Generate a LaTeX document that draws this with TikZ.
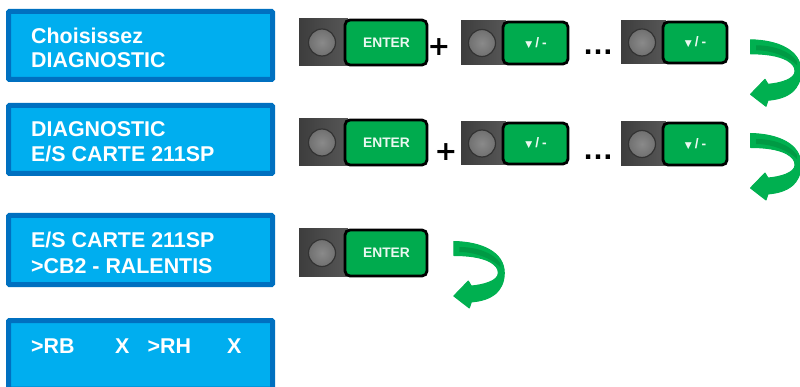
\documentclass[tikz,border=0pt]{standalone}
\usepackage{fontspec}
\setmainfont{Liberation Sans}
\newfontfamily\symfont{DejaVu Sans}
\definecolor{lcdfill}{HTML}{00AEEF}
\definecolor{lcdedge}{HTML}{0070C0}
\definecolor{keygreen}{HTML}{00AB4E}
\definecolor{arrowgreen}{HTML}{00B050}
\definecolor{arrowdark}{HTML}{009A44}
\tikzset{
  lcd/.style={draw=lcdedge,fill=lcdfill,line width=5pt,rounded corners=1pt},
  lcdtext/.style={text=white,font=\fontsize{21.4}{24.5}\selectfont\bfseries,anchor=base west,inner sep=0pt},
  keyback/.style={left color=black!76,right color=black!66,draw=none},
  keydisc/.style={circle,draw=black!80,line width=1.2pt,inner color=black!46,outer color=black!56,minimum size=27pt,inner sep=0pt},
  keyface/.style={draw=black,line width=2.8pt,fill=keygreen,rounded corners=5pt},
  keytext/.style={text=white!92!keygreen,font=\fontsize{13.8}{14}\selectfont\bfseries,inner sep=0pt},
  opsign/.style={text=black,font=\fontsize{31}{31}\selectfont\bfseries,inner sep=0pt},
  plussign/.style={text=black,font=\symfont\fontsize{27}{27}\selectfont\bfseries,inner sep=0pt},
}
% #1 left, #2 top, #3 right, #4 bottom, #5 green left, #6 label, #7 name
\newcommand{\keycap}[7]{%
  \fill[keyback] (#1,#2) rectangle (#5+3,#4);
  \node[keydisc] (#7d) at ({#1+(#5-#1)/2},{(#2+#4)/2}) {};
  \node[draw=none,fill=none,inner sep=0pt] (#7) at ({(#5+#3)/2},{(#2+#4)/2}) {};
  \draw[keyface] (#5,#2+1) rectangle (#3-1,#4-1);
  \node[keytext] (#7t) at (#7) {#6};
}
\newcommand{\turnarrow}[2]{%
  \begin{scope}[shift={(#1,#2)}]
    \filldraw[draw=arrowgreen,fill=arrowgreen,line width=1pt,line join=round] (0.5,0.5) .. controls (28,1) and (51,11) .. (51,32)
      .. controls (51,42) and (47,48) .. (43,52)
      .. controls (36,58) and (28,60) .. (18,61) -- (16,67) -- (0.5,55) -- (15,40) -- (18,45)
      .. controls (30,44) and (45,40) .. (45,32)
      .. controls (45,27) and (42,24) .. (37,21)
      .. controls (28,16) and (14,14.5) .. (0.5,14.5) -- cycle;
    \fill[arrowdark] (6,6) .. controls (24,6) and (40,12) .. (47,22)
      -- (47,26) .. controls (40,19) and (24,11) .. (6,11) -- cycle;
  \end{scope}
}
\newcommand{\dnlabel}{{\symfont\fontsize{9}{9}\selectfont ▼}\kern3pt/\kern3pt-}
\begin{document}
\begin{tikzpicture}[x=1pt,y=-1pt]
\useasboundingbox (0,0) rectangle (800,387);
\begin{scope}
\clip (0,0) rectangle (800,387);
\draw[lcd] (8.5,11.5) rectangle (272.5,79.5);
\draw[lcd] (8.5,105.5) rectangle (272.5,173.5);
\draw[lcd] (8.5,215.5) rectangle (272.5,284.5);
\draw[lcd] (8.5,320.5) rectangle (272.5,389);
\end{scope}
\node[lcdtext] (t1a) at (31,43.5) {Choisissez};
\node[lcdtext] (t1b) at (31,68) {DIAGNOSTIC};
\node[lcdtext] (t2a) at (31,137) {DIAGNOSTIC};
\node[lcdtext] (t2b) at (31,162) {E/S CARTE 211SP};
\node[lcdtext] (t3a) at (31,248) {E/S CARTE 211SP};
\node[lcdtext] (t3b) at (31,273) {>CB2 - RALENTIS};
\node[lcdtext] (t4a) at (31,353) {>RB};
\node[lcdtext] (t4b) at (115,353) {X};
\node[lcdtext] (t4c) at (147.5,353) {>RH};
\node[lcdtext] (t4d) at (227,353) {X};
\keycap{299}{19}{428}{66}{345}{ENTER}{ka}
\keycap{461}{21}{569}{65}{503}{\dnlabel}{kb}
\keycap{621}{21}{728}{64}{663}{\dnlabel}{kc}
\keycap{299}{119}{428}{166}{345}{ENTER}{kd}
\keycap{461}{122}{569}{165}{503}{\dnlabel}{ke}
\keycap{621}{122}{728}{166}{663}{\dnlabel}{kf}
\keycap{299}{229}{428}{277}{345}{ENTER}{kg}
\node[plussign] (p1) at (439,47) {+};
\node[plussign] (p2) at (446,152) {+};
\node[opsign] (d1) at (598,52) {…};
\node[opsign] (d2) at (598,157) {…};
\turnarrow{750}{39.3}
\turnarrow{750}{133}
\turnarrow{453.3}{241}
\end{tikzpicture}
\end{document}
